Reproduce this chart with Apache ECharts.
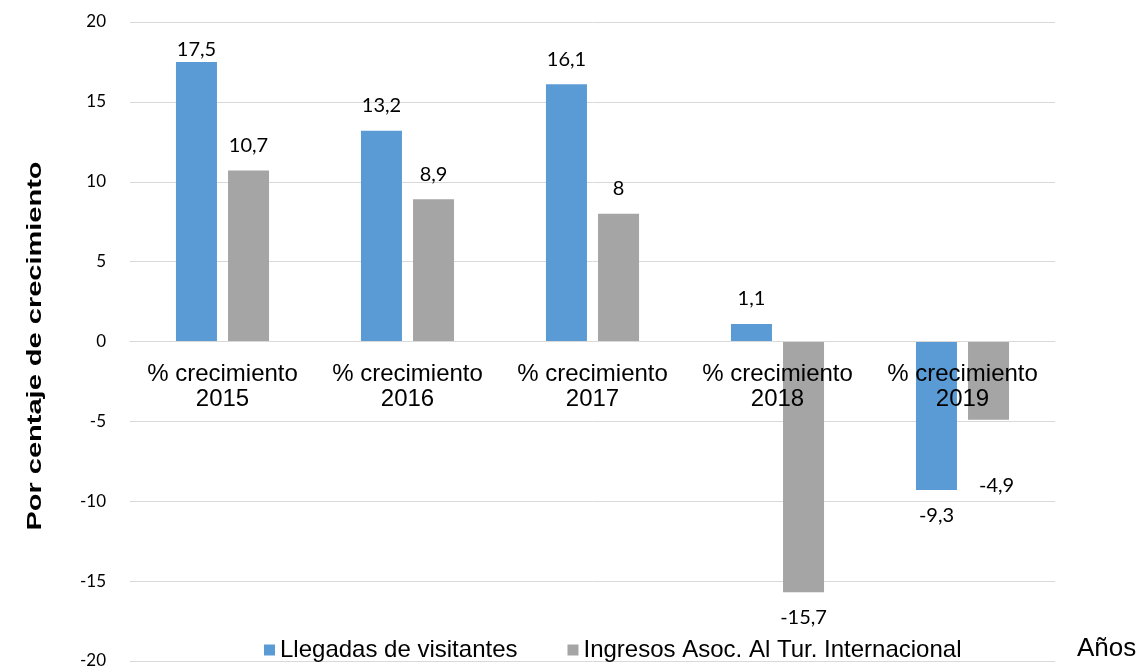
<!DOCTYPE html>
<html>
<head>
<meta charset="utf-8">
<script src="https://cdn.jsdelivr.net/npm/echarts@6/dist/echarts.min.js"></script>
<style>
  html, body { margin: 0; padding: 0; background: #fff; }
  #chart { width: 1139px; height: 669px; }
</style>
</head>
<body>
<div id="chart"></div>
<script>
// data
const categories = ['% crecimiento\n2015', '% crecimiento\n2016', '% crecimiento\n2017', '% crecimiento\n2018', '% crecimiento\n2019'];
const llegadas = [17.5, 13.2, 16.1, 1.1, -9.3];
const ingresos = [10.7, 8.9, 8, -15.7, -4.9];
const seriesNames = ['Llegadas de visitantes', 'Ingresos Asoc. Al Tur. Internacional'];
const yMin = -20, yMax = 20, yStep = 5;

const chart = echarts.init(document.getElementById('chart'));

const fmt = v => String(v).replace('.', ',');

// labels above positive bars, below negative ones
function toItems(values) {
  return values.map(v => ({
    value: v,
    label: { position: v >= 0 ? 'top' : 'bottom' }
  }));
}

const blueItems = toItems(llegadas);
blueItems[0].label.distance = 2;   // top bar pushed down by the chart edge
const grayItems = toItems(ingresos);
grayItems[4].label.offset = [8, 41]; // excel moved this label off the axis text

const labelStyle = {
  show: true,
  distance: 15,
  fontFamily: 'Lato',
  fontSize: 20,
  color: '#000',
  formatter: p => fmt(p.value)
};

const gridTop = 22, gridBottom = 8;
const gridHeight = 669 - gridTop - gridBottom;
// onZero does not move the labels here, so lift the x axis up to the zero line
const zeroOffset = -gridHeight * (0 - yMin) / (yMax - yMin);

const option = {
  animation: false,
  grid: { left: 130, right: 84, top: gridTop, bottom: gridBottom, containLabel: false, outerBoundsMode: 'none' },
  legend: {
    left: 259,
    top: 633,
    itemWidth: 11,
    itemHeight: 11,
    itemGap: 50,
    icon: 'rect',
    textStyle: { fontFamily: 'Liberation Sans', fontSize: 24, color: '#000' },
    data: seriesNames
  },
  xAxis: {
    type: 'category',
    data: categories,
    offset: zeroOffset,
    axisLine: { onZero: false, lineStyle: { color: '#d9d9d9', width: 1 } },
    axisTick: { show: false },
    axisLabel: {
      fontFamily: 'Liberation Sans',
      fontSize: 24,
      color: '#000',
      lineHeight: 25,
      margin: 20,
      interval: 0
    },
    z: 5
  },
  yAxis: {
    type: 'value',
    min: yMin,
    max: yMax,
    interval: yStep,
    axisLine: { show: false },
    axisTick: { show: false },
    axisLabel: { fontFamily: 'Lato', fontSize: 17, color: '#000', margin: 24 },
    splitLine: { lineStyle: { color: '#d9d9d9', width: 1 } }
  },
  series: [
    {
      name: seriesNames[0],
      type: 'bar',
      data: blueItems,
      barWidth: 41,
      barGap: '27%',
      itemStyle: { color: '#5b9bd5' },
      label: labelStyle
    },
    {
      name: seriesNames[1],
      type: 'bar',
      data: grayItems,
      barWidth: 41,
      barGap: '27%',
      itemStyle: { color: '#a5a5a5' },
      label: labelStyle
    }
  ],
  graphic: [
    {
      // axis title, stretched along its length like the original
      type: 'text',
      x: 35,
      y: 346,
      rotation: Math.PI / 2,
      scaleX: 1.45,
      style: {
        text: 'Por centaje de crecimiento',
        fontFamily: 'Liberation Sans',
        fontWeight: 'bold',
        fontSize: 20,
        fill: '#000',
        align: 'center',
        verticalAlign: 'middle'
      }
    },
    {
      type: 'text',
      left: 1077,
      top: 636,
      style: { text: 'Años', fontFamily: 'Liberation Sans', fontSize: 26, fill: '#000' }
    }
  ]
};

option && chart.setOption(option);
</script>
</body>
</html>
